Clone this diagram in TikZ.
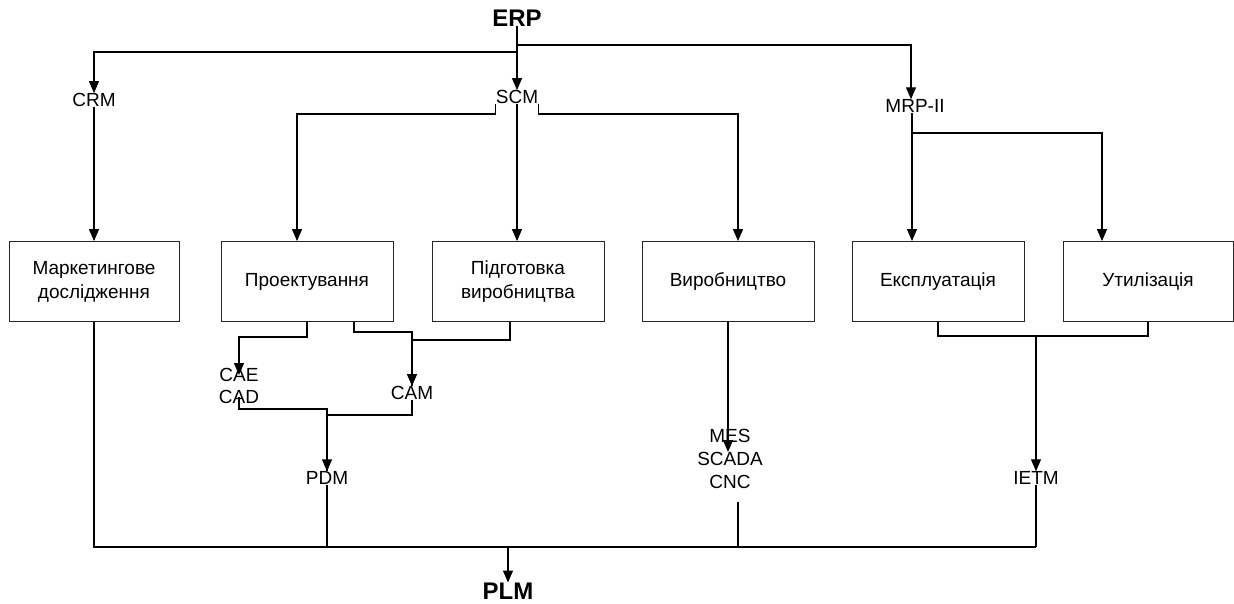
\documentclass[tikz,border=0pt]{standalone}
\usepackage{fontspec}
\setmainfont{Liberation Sans}
\usetikzlibrary{arrows.meta}
\begin{document}
\begin{tikzpicture}[x=1pt,y=-1pt,
  box/.style={draw=black!85,line width=0.9pt,minimum width=172pt,minimum height=80pt,align=center,inner sep=0pt,
    font=\fontsize{19}{24}\selectfont},
  lbl/.style={inner sep=0pt,align=center,font=\fontsize{19}{23}\selectfont},
  big/.style={inner sep=0pt,font=\fontsize{24}{28}\selectfont\bfseries},
  con/.style={line width=1.3pt,black},
  arr/.style={con,-{Triangle[length=12pt,width=10pt]}}]
\useasboundingbox (0,0) rectangle (1234,603);
% boxes
\node[box,minimum width=170pt] (mkt) at (94,281.5) {Маркетингове\\дослідження};
\node[box] (des) at (307,281.5) {Проектування};
\node[box] (prep) at (518,281.5) {Підготовка\\виробництва};
\node[box] (prod) at (728,281.5) {Виробництво};
\node[box] (expl) at (938,281.5) {Експлуатація};
\node[box,minimum width=170pt] (util) at (1148,281.5) {Утилізація};
% labels
\node[big] (erp) at (517,18) {ERP};
\node[big] (plm) at (508,591) {PLM};
\node[lbl] (crm) at (94,100) {CRM};
\node[lbl] (scm) at (517,97) {SCM};
\node[lbl] (mrp) at (915,106) {MRP-II};
\node[lbl] (cae) at (239,375) {CAE};
\node[lbl] (cad) at (239,397) {CAD};
\node[lbl] (cam) at (412,393) {CAM};
\node[lbl] (pdm) at (327,478) {PDM};
\node[lbl] (mes) at (730,459) {MES\\SCADA\\CNC};
\node[lbl] (ietm) at (1036,478) {IETM};
% junction coordinates
\coordinate (j1) at (517,52);
\coordinate (j2) at (517,45);
\coordinate (m1) at (912,133);
\coordinate (mesTip) at (728,452);
\coordinate (mesOut) at (738,502);
\coordinate (e1) at (1036,335);
\coordinate (busL) at (93,547);
\coordinate (busR) at (1036,547);
% ERP
\draw[con] (erp.south) -- (j1);
\draw[arr] (j1) -| (crm.north);
\draw[arr] (j1) -- (scm.north);
\draw[arr] (j2) -| ([xshift=-4pt]mrp.north);
% CRM
\draw[arr] (crm.south) -- (crm.south |- mkt.north);
% SCM
\draw[arr] (scm.south west) -- ++(0,10) -| ([xshift=-10pt]des.north);
\draw[arr] (scm.south) -- (scm.south |- prep.north);
\draw[arr] (scm.south east) -- ++(0,10) -| ([xshift=10pt]prod.north);
% MRP-II
\draw[arr] ([xshift=-3pt]mrp.south) -- ([xshift=-3pt]mrp.south |- expl.north);
\draw[arr] (m1) -| ([xshift=-46pt]util.north);
% design
\draw[arr] (des.south) -- ++(0,15) -| (cae.center);
\draw[arr] ([xshift=47pt]des.south) -- ++(0,10) -| (cam.north);
\draw[con] ([xshift=-8pt]prep.south) -- ++(0,18) -| (cam.north);
\draw[arr] (cad.center) -- ++(0,12) -| (pdm.north);
\draw[con] (cam.south) -- ++(0,15) -| (pdm.north);
% production
\draw[arr] (prod.south) -- (mesTip);
% operation
\draw[con] (expl.south) -- ++(0,14) -| (util.south);
\draw[arr] (e1) -- (ietm.north);
% bus
\draw[con] (mkt.south) -- (mkt.south |- busL);
\draw[con] (pdm.south) -- (pdm.south |- busL);
\draw[con] (mesOut) -- (mesOut |- busL);
\draw[con] (ietm.south) -- (busR);
\draw[con] (busL) -- (busR);
\draw[arr] (plm.north |- busL) -- (plm.north);
\end{tikzpicture}
\end{document}
